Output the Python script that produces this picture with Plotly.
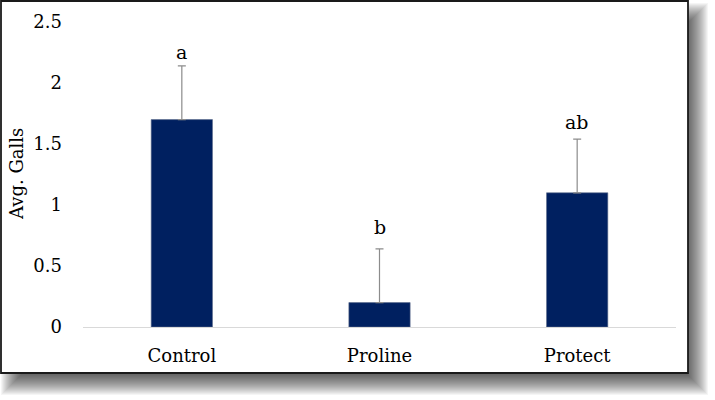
import plotly.graph_objects as go

categories = ["Control", "Proline", "Protect"]
avg_galls = [1.70, 0.20, 1.10]
error_up = [0.44, 0.44, 0.44]
letters = ["a", "b", "ab"]
y_ticks = [0, 0.5, 1, 1.5, 2, 2.5]

letter_shift_px = [1, 9, 4]  # gap of each letter above its error bar

W, H = 715, 400
L, R, T, B = 83, 676, 22, 327  # plot area in px

def px(x):
    return (x - L) / (R - L)

def py(y):
    return (B - y) / (B - T)

FONT = "DejaVu Serif"

fig = go.Figure()
fig.add_trace(go.Bar(
    x=categories, y=avg_galls,
    marker=dict(color="#002060", line=dict(color="#5a6a8a", width=0.6)),
    error_y=dict(type="data", array=error_up, symmetric=False,
                 arrayminus=[0] * len(error_up),
                 color="#8c8c8c", thickness=1.2, width=4),
    showlegend=False, hoverinfo="skip",
))

for c, v, e, t, s in zip(categories, avg_galls, error_up, letters, letter_shift_px):
    fig.add_annotation(x=c, y=v + e, text=t, showarrow=False,
                       yanchor="bottom", yshift=s,
                       font=dict(family=FONT, size=19, color="#000"))

# y-axis title as rotated text
fig.add_annotation(xref="paper", yref="paper", x=px(16), y=py(174),
                   text="Avg. Galls", textangle=-90, showarrow=False,
                   xanchor="center", yanchor="middle",
                   font=dict(family=FONT, size=18, color="#000"))

shapes = []
# blurred drop shadow
fx0, fy0, fx1, fy1 = 1, 1, 688, 373
ox, oy, blur = 10, 12, 10
for k in range(-blur, blur + 1):
    shapes.append(dict(type="rect", xref="paper", yref="paper", layer="below",
                       x0=px(fx0 + ox - k), x1=px(fx1 + ox + k),
                       y0=py(fy1 + oy + k), y1=py(fy0 + oy - k),
                       fillcolor="rgba(0,0,0,0.04)", line=dict(width=0)))
# white frame with black border
shapes.append(dict(type="rect", xref="paper", yref="paper", layer="below",
                   x0=px(fx0), x1=px(fx1), y0=py(fy1), y1=py(fy0),
                   fillcolor="white", line=dict(color="#1a1a1a", width=1.8)))

fig.update_layout(
    width=W, height=H,
    margin=dict(l=L, r=W - R, t=T, b=H - B, pad=0),
    paper_bgcolor="white", plot_bgcolor="rgba(0,0,0,0)",
    bargap=0.69,
    shapes=shapes,
    font=dict(family=FONT, size=18, color="#000"),
    xaxis=dict(showline=True, linecolor="#d9d9d9", linewidth=1.3,
               showgrid=False, zeroline=False, ticks="",
               ticklabelstandoff=12, fixedrange=True),
    yaxis=dict(range=[0, 2.5], tickvals=y_ticks,
               ticktext=[f"{v:g}" for v in y_ticks],
               showline=False, showgrid=False, zeroline=False, ticks="",
               ticklabelstandoff=20, fixedrange=True),
)

fig.write_html("out.html", config={"displayModeBar": False},
               post_script="document.body.style.margin='0';")
